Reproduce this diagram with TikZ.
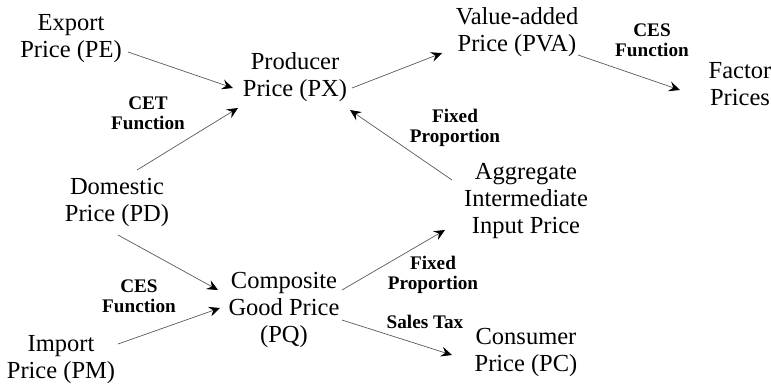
\documentclass[tikz,border=0pt]{standalone}
\usepackage{fontspec}
\setmainfont{Liberation Serif}
\usetikzlibrary{arrows.meta,calc}

\tikzset{
  price/.style={align=center, inner sep=0pt, font=\fontsize{12.25}{13.5}\selectfont},
  fnlabel/.style={align=center, inner sep=0pt, font=\bfseries\fontsize{9.6}{10}\selectfont},
  flow/.style={-{Stealth[length=5.5pt,width=5pt,inset=2pt,black]}, line width=0.35pt, black!65}
}

\begin{document}
\begin{tikzpicture}[x=0.5pt,y=-0.5pt]
  \useasboundingbox (0,0) rectangle (771,387);
  % prices
  \node[price] (pe)  at (71,39)   {Export\\Price (PE)};
  \node[price] (px)  at (295,77)  {Producer\\Price (PX)};
  \node[price] (pva) at (517,32)  {Value-added\\Price (PVA)};
  \node[price] (fp)  at (740,84)  {Factor\\Prices};
  \node[price] (pd)  at (117,202) {Domestic\\Price (PD)};
  \node[price] (aip) at (526,201) {Aggregate\\Intermediate\\Input Price};
  \node[price] (pq)  at (284,310) {Composite\\Good Price\\(PQ)};
  \node[price] (pm)  at (61,360)  {Import\\Price (PM)};
  \node[price] (pc)  at (526,352) {Consumer\\Price (PC)};
  % function labels
  \node[fnlabel] (cet)   at (148,113) {CET\\Function};
  \node[fnlabel] (cesva) at (652,40)  {CES\\Function};
  \node[fnlabel] (fixpx) at (455,128) {Fixed\\Proportion};
  \node[fnlabel] (cesq)  at (139,296) {CES\\Function};
  \node[fnlabel] (fixq)  at (433,275) {Fixed\\Proportion};
  \node[fnlabel] (tax)   at (425,322) {Sales Tax};
  % arrows
  \draw[flow] ($(pe.center)+(57,13)$) -- ($(px.center)+(-62,11)$);
  \draw[flow] ($(pd.center)+(20,-32)$) -- ($(px.center)+(-57,31)$);
  \draw[flow] ($(aip.center)+(-74,-21)$) -- ($(px.center)+(55,33)$);
  \draw[flow] ($(px.center)+(57,11)$) -- ($(pva.center)+(-75,21)$);
  \draw[flow] ($(pva.center)+(61,23)$) -- ($(fp.center)+(-60,6)$);
  \draw[flow] ($(pd.center)+(1,33)$) -- ($(pq.center)+(-66,-20)$);
  \draw[flow] ($(pm.center)+(57,-16)$) -- ($(pq.center)+(-64,-2)$);
  \draw[flow] ($(pq.center)+(58,-20)$) -- ($(aip.center)+(-81,29)$);
  \draw[flow] ($(pq.center)+(58,10)$) -- ($(pc.center)+(-74,3)$);
\end{tikzpicture}
\end{document}
